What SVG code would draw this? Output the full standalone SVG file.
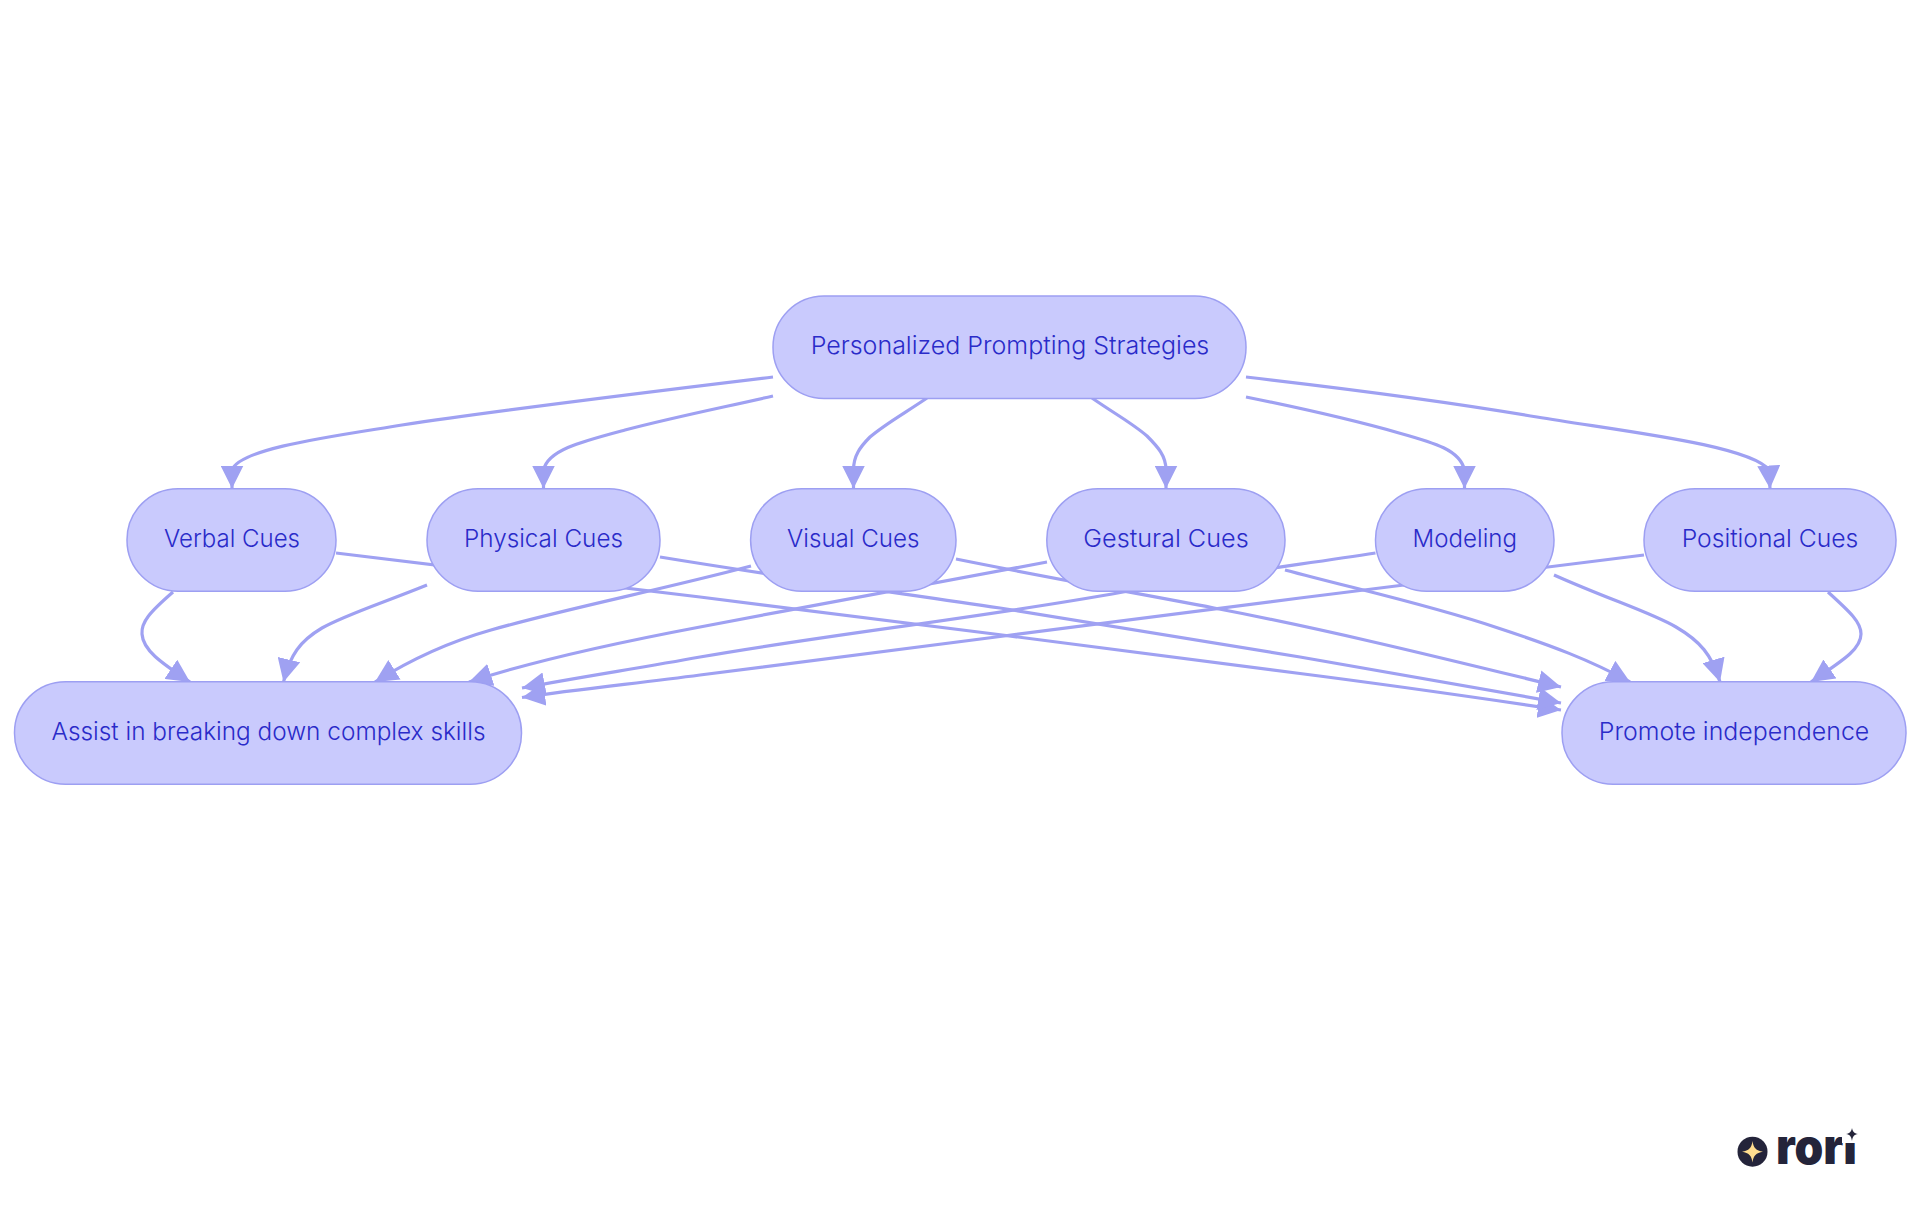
<svg xmlns="http://www.w3.org/2000/svg" width="1920" height="1215" viewBox="0 0 1920 1215">
<style>
.n{fill:#C9CAFD;stroke:#9D9FF2;stroke-width:1.5}
.t{font-family:"Inter","Noto Sans","Liberation Sans",sans-serif;font-size:24.5px;font-weight:350;fill:#2A2BC9;text-anchor:middle}
.e{fill:none;stroke:#9FA1F2;stroke-width:3.2;marker-end:url(#a)}
</style>
<defs>
<marker id="a" viewBox="0 0 10 10" refX="10" refY="5" markerUnits="userSpaceOnUse" markerWidth="23" markerHeight="23" orient="auto"><path d="M0 0L10 5L0 10z" fill="#9FA1F2"/></marker>
<clipPath id="c"><rect x="1770" y="1120" width="72" height="50"/><rect x="1842" y="1143" width="20" height="27"/></clipPath>
</defs>
<rect width="1920" height="1215" fill="#fff"/>
<g id="connectors">
<path class="e" d="M773 377C640 393 500 410 402 425C335 436 240 448 232 470L232 488.500"/>
<path class="e" d="M773 396C720 408 670 418 625 430C580 442 548 450 543.500 470L543.500 488.500"/>
<path class="e" d="M927 398C905 413 885 424 870 437C860 447 853.500 456 853.500 470L853.500 488.500"/>
<path class="e" d="M1092 398C1115 414 1132 423 1147 436C1158 447 1166 456 1166 470L1166 488.500"/>
<path class="e" d="M1246 397C1300 408 1350 419 1399 433C1435 443 1460 450 1464.500 470L1464.500 488.500"/>
<path class="e" d="M1246 377C1350 389 1450 402 1537 417C1620 431 1750 445 1769 470L1770 488.500"/>
<path class="e" d="M173 592C150 612 141 622 142 634C143 650 160 662 190 682"/>
<path class="e" d="M427 585C380 604 345 615 322 628C300 641 290 655 283.500 682"/>
<path class="e" d="M751 566C660 590 560 610 491 630C445 643 410 660 375 682"/>
<path class="e" d="M1047 562C950 580 820 604 700 627C610 644 530 662 469 682"/>
<path class="e" d="M1375.500 553C1290 566 1200 578 1123 592C980 618 830 634 700 657C640 668 580 677 522 688"/>
<path class="e" d="M1644 555C1500 572 1400 585 1300 598C1100 624 900 649 700 675C640 683 580 689 522 697.500"/>
<path class="e" d="M336 553C500 573 600 585 700 597C850 615 1150 654 1300 673.500C1390 685 1480 698 1561 710"/>
<path class="e" d="M660 557C800 580 900 593 1000 608C1100 624 1200 640 1300 657C1400 674 1480 688 1561 703"/>
<path class="e" d="M956 559C1050 578 1130 592 1214 608C1330 630 1450 660 1561 687"/>
<path class="e" d="M1285 570C1360 590 1430 605 1498 628C1550 645 1590 660 1630 682"/>
<path class="e" d="M1554 575C1610 600 1650 612 1676 627C1700 641 1712 655 1720 682"/>
<path class="e" d="M1828 592C1850 612 1861 622 1861 634C1861 650 1840 662 1811 682"/>
</g>
<g id="root"><rect class="n" x="773" y="296" width="473" height="102.500" rx="51"/><text class="t" x="1010" y="354" textLength="398.600" lengthAdjust="spacingAndGlyphs">Personalized Prompting Strategies</text></g>
<g id="verbal"><rect class="n" x="127" y="488.700" width="209" height="102.500" rx="51"/><text class="t" x="232" y="546.500" textLength="136" lengthAdjust="spacingAndGlyphs">Verbal Cues</text></g>
<g id="physical"><rect class="n" x="427" y="488.700" width="233" height="102.500" rx="51"/><text class="t" x="543.500" y="546.500" textLength="159" lengthAdjust="spacingAndGlyphs">Physical Cues</text></g>
<g id="visual"><rect class="n" x="750.600" y="488.700" width="205.400" height="102.500" rx="51"/><text class="t" x="853.300" y="546.500" textLength="132.500" lengthAdjust="spacingAndGlyphs">Visual Cues</text></g>
<g id="gestural"><rect class="n" x="1046.800" y="488.700" width="238.200" height="102.500" rx="51"/><text class="t" x="1166" y="546.500" textLength="165.300" lengthAdjust="spacingAndGlyphs">Gestural Cues</text></g>
<g id="modeling"><rect class="n" x="1375.500" y="488.700" width="178.500" height="102.500" rx="51"/><text class="t" x="1464.800" y="546.500" textLength="104.400" lengthAdjust="spacingAndGlyphs">Modeling</text></g>
<g id="positional"><rect class="n" x="1644" y="488.700" width="252" height="102.500" rx="51"/><text class="t" x="1770" y="546.500" textLength="176.700" lengthAdjust="spacingAndGlyphs">Positional Cues</text></g>
<g id="assist"><rect class="n" x="14.500" y="681.700" width="507" height="102.500" rx="51"/><text class="t" x="268.500" y="739.500" textLength="434" lengthAdjust="spacingAndGlyphs">Assist in breaking down complex skills</text></g>
<g id="promote"><rect class="n" x="1562" y="681.700" width="344" height="102.500" rx="51"/><text class="t" x="1734" y="739.500" textLength="270.500" lengthAdjust="spacingAndGlyphs">Promote independence</text></g>
<g id="logo">
<circle cx="1752.500" cy="1151.700" r="15" fill="#24243A"/>
<path d="M1752.500 1141C1753.500 1148 1756 1150.700 1763 1151.700C1756 1152.700 1753.500 1155.500 1752.500 1162.500C1751.500 1155.500 1749 1152.700 1742 1151.700C1749 1150.700 1751.500 1148 1752.500 1141z" fill="#FFDD8F"/>
<text x="1776" y="1164" font-family="Inter,'Liberation Sans',sans-serif" font-weight="900" font-size="49" fill="#24243A" textLength="81" lengthAdjust="spacingAndGlyphs" clip-path="url(#c)">rori</text>
<path d="M1852 1128C1852.700 1131.500 1854 1133.300 1858 1134C1854 1134.700 1852.700 1136.500 1852 1141C1851.300 1136.500 1850 1134.700 1846 1134C1850 1133.300 1851.300 1131.500 1852 1128z" fill="#24243A"/>
</g>
</svg>
